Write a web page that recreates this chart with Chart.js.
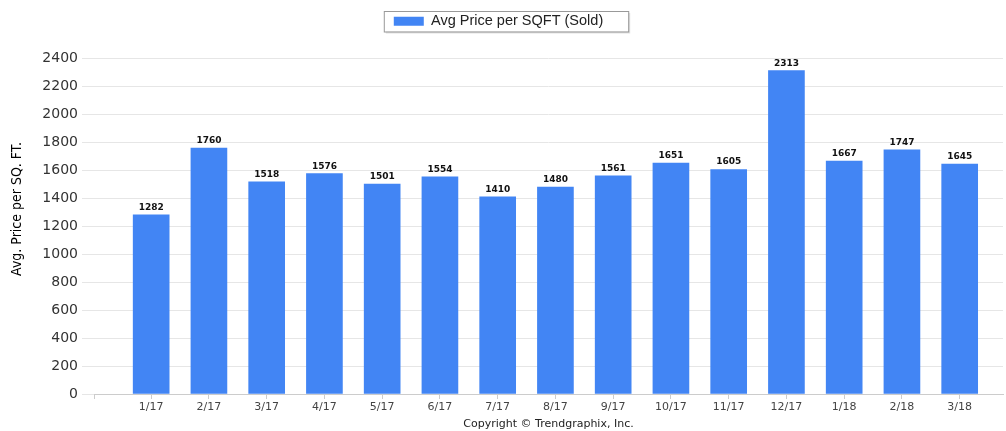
<!DOCTYPE html>
<html>
<head>
<meta charset="utf-8">
<script src="https://cdn.jsdelivr.net/npm/chart.js@4"></script>
<style>
  html, body { margin: 0; padding: 0; background: #fff; }
  #wrap { width: 1006px; height: 431px; }
</style>
</head>
<body>
<div id="wrap"><canvas id="chart"></canvas></div>
<script>
const months = ['1/17', '2/17', '3/17', '4/17', '5/17', '6/17', '7/17', '8/17',
  '9/17', '10/17', '11/17', '12/17', '1/18', '2/18', '3/18']
const avgPrice = [1282, 1760, 1518, 1576, 1501, 1554, 1410, 1480,
  1561, 1651, 1605, 2313, 1667, 1747, 1645]
const seriesName = 'Avg Price per SQFT (Sold)'
const yTitle = 'Avg. Price per SQ. FT.'
const copyright = 'Copyright © Trendgraphix, Inc.'

const barColor = '#4285f4'

// legend frame, value labels and the rotated y title
const extras = {
  id: 'extras',
  afterInit(chart) {
    const legend = chart.legend
    const fit = legend.fit
    legend.fit = function () {
      fit.call(this)
      this.height += 20
    }
  },
  afterLayout(chart) {
    // nudge the legend a little left, like the original
    chart.legend.left -= 8
    chart.legend.right -= 8
  },
  afterDraw(chart) {
    const ctx = chart.ctx
    ctx.save()

    // box round the legend
    const hit = chart.legend.legendHitBoxes[0]
    if (hit) {
      const x = hit.left - 10, y = hit.top - 3
      const w = hit.width + 35, h = hit.height + 6
      ctx.fillStyle = 'rgba(0,0,0,0.12)'
      ctx.fillRect(x + 2, y + 2, w, h)
      ctx.fillStyle = '#fff'
      ctx.fillRect(x, y, w, h)
      ctx.strokeStyle = '#999'
      ctx.lineWidth = 1
      ctx.strokeRect(x + 0.5, y + 0.5, w, h)
      chart.legend.draw()
    }

    // value above each bar
    const meta = chart.getDatasetMeta(0)
    ctx.font = 'bold 9px "DejaVu Sans"'
    ctx.fillStyle = '#111'
    ctx.textAlign = 'center'
    ctx.textBaseline = 'bottom'
    meta.data.forEach((bar, i) => {
      ctx.fillText(String(avgPrice[i]), bar.x, bar.y - 3)
    })

    // y axis title
    ctx.translate(17, 209)
    ctx.rotate(-Math.PI / 2)
    ctx.font = '14px "Liberation Sans Narrow", "DejaVu Sans Condensed", sans-serif'
    ctx.fillStyle = '#000'
    ctx.textAlign = 'center'
    ctx.textBaseline = 'middle'
    ctx.fillText(yTitle, 0, 0)
    ctx.restore()
  }
}

new Chart('chart', {
  type: 'bar',
  data: {
    datasets: [{
      label: seriesName,
      data: avgPrice.map((v, i) => ({ x: i, y: v })),
      backgroundColor: barColor,
      borderWidth: 0,
      barThickness: 36
    }]
  },
  options: {
    responsive: true,
    maintainAspectRatio: false,
    animation: false,
    layout: { padding: { top: 6, left: 10, right: 3, bottom: 0 } },
    plugins: {
      legend: {
        display: true,
        labels: {
          boxWidth: 30,
          boxHeight: 9,
          padding: 8,
          color: '#222',
          font: { family: '"Liberation Sans", Arial, sans-serif', size: 14.5 }
        }
      },
      tooltip: { enabled: false }
    },
    scales: {
      x: {
        type: 'linear',
        offset: false,
        min: -0.99,
        max: 14.75,
        afterBuildTicks: s => {
          s.ticks = [{ value: s.min }].concat(months.map((m, i) => ({ value: i })))
        },
        afterFit: s => { s.height = 37 },
        grid: { drawOnChartArea: false, offset: false, tickLength: 5, color: '#ccc' },
        border: { color: '#ccc' },
        ticks: {
          autoSkip: false,
          maxRotation: 0,
          padding: 2,
          color: '#444',
          font: { family: '"DejaVu Sans"', size: 11 },
          callback: val => Number.isInteger(val) && months[val] ? months[val] : ''
        },
        title: {
          display: true,
          text: copyright,
          color: '#222',
          padding: { top: 3, bottom: 0 },
          font: { family: '"DejaVu Sans"', size: 11 }
        }
      },
      y: {
        min: 0,
        max: 2400,
        afterFit: s => { s.width = 84 },
        grid: { color: '#e6e6e6', tickLength: 12 },
        border: { display: false },
        ticks: {
          stepSize: 200,
          padding: 4,
          color: '#333',
          font: { family: '"DejaVu Sans"', size: 14 },
          callback: val => String(val)
        }
      }
    }
  },
  plugins: [extras]
})
</script>
</body>
</html>
